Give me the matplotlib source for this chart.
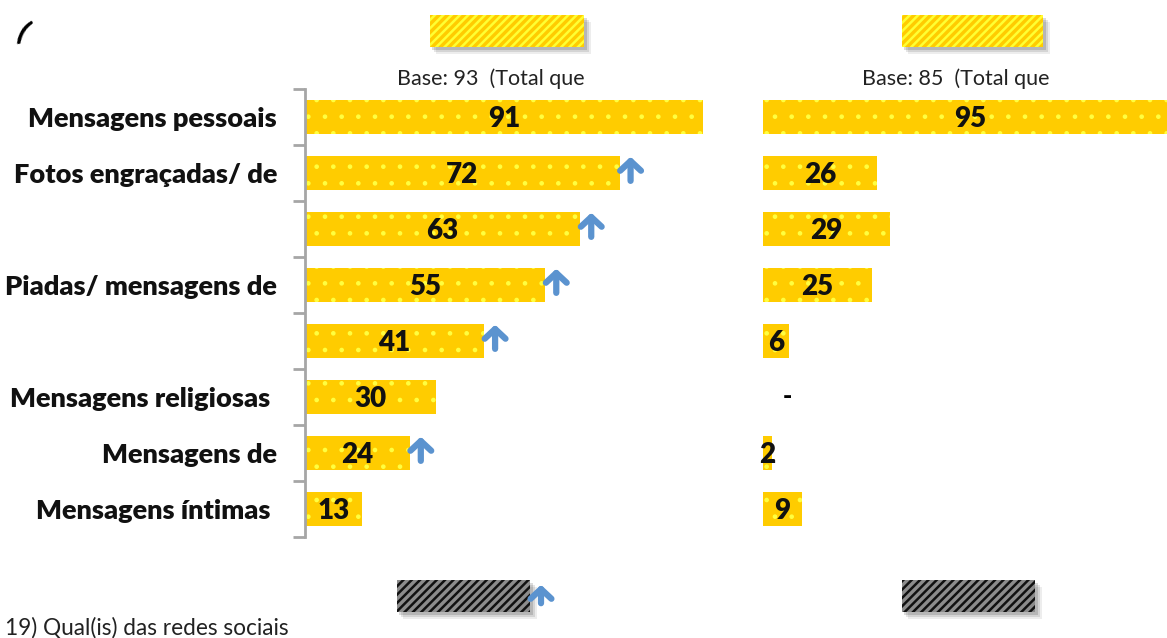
import numpy as np
import matplotlib.pyplot as plt
import matplotlib.patches as mpatches

plt.rcParams['font.family'] = ['Lato', 'DejaVu Sans']

# data
categories = ["Mensagens pessoais", "Fotos engraçadas/ de", "", "Piadas/ mensagens de",
              "", "Mensagens religiosas", "Mensagens de", "Mensagens íntimas"]
left_values = [91, 72, 63, 55, 41, 30, 24, 13]
right_values = [95, 26, 29, 25, 6, 0, 2, 9]
left_up = [False, True, True, True, True, False, True, False]
left_base = "Base: 93  (Total que"
right_base = "Base: 85  (Total que"
footer = "19) Qual(is) das redes sociais"

W, H = 1167, 638
YELLOW = '#FFCC00'
DOTS = '#FFFF40'
BLUE = '#5B93CF'

fig = plt.figure(figsize=(W / 100, H / 100), dpi=100)


def fig_box(x0, y0, x1, y1):
    # pixel box (top-left origin) -> figure fraction rect
    return [x0 / W, 1 - y1 / H, (x1 - x0) / W, (y1 - y0) / H]


def draw_bars(ax, values, dash_zero=False):
    y = np.arange(len(values))
    with plt.rc_context({'hatch.linewidth': 0.9}):
        ax.barh(y, values, height=0.59, color=YELLOW, edgecolor=DOTS, linewidth=0, hatch='.')
    for yi, v in zip(y, values):
        if v == 0 and dash_zero:
            ax.text(v + 5.5, yi, '-', ha='center', va='center', fontsize=18, fontweight='heavy')
        else:
            ax.text(v / 2, yi + 0.04, str(v), ha='center', va='center', fontsize=20,
                    fontweight='heavy', color='#111111')
    ax.set_ylim(len(values) - 0.5, -0.5)


def up_arrow(ax, x, y):
    ax.annotate('', xy=(x, y - 0.34), xytext=(x, y + 0.19),
                arrowprops=dict(arrowstyle='->,head_width=0.75,head_length=0.7',
                                lw=4.5, color=BLUE, capstyle='round', joinstyle='round'))


# left panel
axl = fig.add_axes(fig_box(305, 89, 740, 537))
draw_bars(axl, left_values)
axl.set_xlim(0, 435 / 4.37)
for yi, (v, up) in enumerate(zip(left_values, left_up)):
    if up:
        up_arrow(axl, v + 2.5, yi)
for s in ['top', 'right', 'bottom']:
    axl.spines[s].set_visible(False)
axl.spines['left'].set_color('#A6A6A6')
axl.spines['left'].set_linewidth(2)
axl.set_xticks([])
axl.set_yticks(np.arange(-0.5, len(categories), 1))
axl.set_yticklabels([])
axl.tick_params(axis='y', length=9, width=2, color='#A6A6A6')
for yi, c in enumerate(categories):
    off = 7 if c in ("Mensagens religiosas", "Mensagens íntimas") else 0
    axl.text(-(28 + off) / 4.37, yi + 0.03, c, ha='right', va='center', fontsize=19.5,
             fontweight='heavy', color='#111111', clip_on=False)

# right panel
axr = fig.add_axes(fig_box(763, 89, 1167, 537))
draw_bars(axr, right_values, dash_zero=True)
axr.set_xlim(0, 404 / 4.37)
axr.axis('off')

# base texts
fig.text(491 / W, 1 - 79 / H, left_base, ha='center', va='center', fontsize=15.5, color='#222222')
fig.text(956 / W, 1 - 79 / H, right_base, ha='center', va='center', fontsize=15.5, color='#222222')


# legend-like boxes with a soft shadow
def shadow_box(x0, y0, x1, y1, face, hatch_col):
    for k, a in [(7, 0.07), (5, 0.10), (3, 0.14)]:
        r = fig_box(x0 + k - 1, y0 + k, x1 + k, y1 + k)
        fig.patches.append(mpatches.Rectangle((r[0], r[1]), r[2], r[3], transform=fig.transFigure,
                                              facecolor='black', alpha=a, linewidth=0))
    r = fig_box(x0, y0, x1, y1)
    with plt.rc_context({'hatch.linewidth': 1.8}):
        fig.patches.append(mpatches.Rectangle((r[0], r[1]), r[2], r[3], transform=fig.transFigure,
                                              facecolor=face, edgecolor=hatch_col, hatch='////',
                                              linewidth=0))


shadow_box(430, 15, 584, 47, YELLOW, '#FFFF33')
shadow_box(902, 15, 1043, 47, YELLOW, '#FFFF33')
shadow_box(397, 580, 530, 612, '#8C8C8C', '#111111')
shadow_box(902, 580, 1035, 612, '#8C8C8C', '#111111')

fig.patches.append(mpatches.FancyArrowPatch(
    (541 / W, 1 - 606 / H), (541 / W, 1 - 582 / H), transform=fig.transFigure,
    arrowstyle='->,head_width=7.5,head_length=7', lw=4.5, color=BLUE,
    capstyle='round', joinstyle='round'))

fig.text(13 / W, 1 - 33 / H, '(', fontsize=20, fontweight='heavy', fontstyle='italic',
         ha='left', va='center', rotation=-25)
fig.text(5 / W, 1 - 628 / H, footer, fontsize=16.3, ha='left', va='center', color='#222222')

fig.savefig('out.png', dpi=100)
